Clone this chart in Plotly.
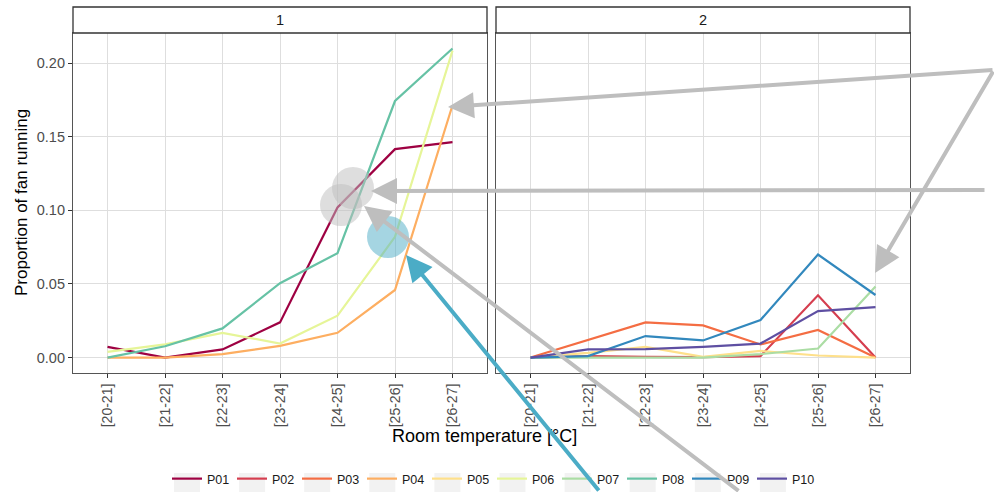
import plotly.graph_objects as go

# Room-temperature bins (x categories) shared by both panels
temp_bins = ["[20-21]", "[21-22]", "[22-23]", "[23-24]", "[24-25]", "[25-26]", "[26-27]"]

participants = ["P01", "P02", "P03", "P04", "P05", "P06", "P07", "P08", "P09", "P10"]
palette = ["#9E0142", "#D53E4F", "#F46D43", "#FDAE61", "#FEE08B",
           "#E6F598", "#ABDDA4", "#66C2A5", "#3288BD", "#5E4FA2"]

# Facet each participant belongs to
panel_of = {"P01": 1, "P04": 1, "P06": 1, "P08": 1,
            "P02": 2, "P03": 2, "P05": 2, "P07": 2, "P09": 2, "P10": 2}

# Proportion of time the fan was running, per temperature bin
fan_share = {
    "P01": [0.0072, 0.0000, 0.0055, 0.0239, 0.1020, 0.1416, 0.1464],
    "P04": [0.0000, 0.0000, 0.0023, 0.0079, 0.0168, 0.0459, 0.1714],
    "P06": [0.0038, 0.0089, 0.0168, 0.0095, 0.0284, 0.0820, 0.2085],
    "P08": [0.0000, 0.0077, 0.0198, 0.0505, 0.0709, 0.1743, 0.2100],
    "P02": [0.0000, 0.0010, 0.0005, 0.0003, 0.0010, 0.0423, 0.0000],
    "P03": [0.0000, 0.0120, 0.0239, 0.0218, 0.0089, 0.0187, 0.0000],
    "P05": [0.0000, 0.0032, 0.0073, 0.0005, 0.0045, 0.0014, 0.0000],
    "P07": [0.0000, 0.0000, 0.0000, 0.0000, 0.0023, 0.0061, 0.0482],
    "P09": [0.0000, 0.0010, 0.0146, 0.0116, 0.0255, 0.0700, 0.0425],
    "P10": [0.0000, 0.0055, 0.0057, 0.0073, 0.0095, 0.0316, 0.0343],
}

y_ticks = [0.00, 0.05, 0.10, 0.15, 0.20]

W, H = 994, 492
M_L, M_R, M_T, M_B = 73, 84, 33, 119
PW, PH = W - M_L - M_R, H - M_T - M_B
split_l, split_r = (487 - M_L) / PW, (496 - M_L) / PW
FONT = "Liberation Sans, Arial, sans-serif"


def px(x):
    return (x - M_L) / PW


def py(y):
    return (H - M_B - y) / PH


fig = go.Figure()
for name, col in zip(participants, palette):
    p = panel_of[name]
    fig.add_trace(go.Scatter(
        x=temp_bins, y=fan_share[name], mode="lines", name=name,
        line=dict(color=col, width=2.2),
        xaxis="x" if p == 1 else "x2", yaxis="y" if p == 1 else "y2",
        showlegend=True,
    ))

tick_font = dict(family=FONT, size=14, color="#4D4D4D")
axis_common = dict(
    showline=True, linecolor="#555555", linewidth=1.2, mirror=True,
    showgrid=True, gridcolor="#DEDEDE", gridwidth=1.2, zeroline=False,
    ticks="outside", ticklen=4, tickwidth=1.1, tickcolor="#333333",
    tickfont=tick_font, automargin=False,
)
xcommon = dict(axis_common, type="category", categoryorder="array",
               categoryarray=temp_bins, range=[-0.6, 6.6], tickangle=-90)
ycommon = dict(axis_common, range=[-0.0105, 0.2205], tickvals=y_ticks,
               tickformat=".2f")

fig.update_layout(
    template="none",
    width=W, height=H,
    margin=dict(l=M_L, r=M_R, t=M_T, b=M_B, autoexpand=False),
    paper_bgcolor="white", plot_bgcolor="white",
    xaxis=dict(xcommon, domain=[0, split_l], anchor="y"),
    xaxis2=dict(xcommon, domain=[split_r, 1], anchor="y2"),
    yaxis=dict(ycommon, domain=[0, 1], anchor="x", tickfont=dict(tick_font, size=14.5)),
    yaxis2=dict(ycommon, domain=[0, 1], anchor="x2", matches="y",
                showticklabels=False, ticks=""),
    legend=dict(orientation="h", x=px(492), xanchor="center",
                yref="container", y=1 - 479 / H, yanchor="middle",
                entrywidth=20, entrywidthmode="pixels",
                font=dict(family=FONT, size=12.5, color="#1A1A1A"),
                bgcolor="rgba(0,0,0,0)"),
    font=dict(family=FONT, color="#1A1A1A"),
)

shapes = []
annotations = []

# Light key backgrounds behind the legend swatches
for i in range(len(participants)):
    kx = 174 + 65.1 * i
    shapes.append(dict(type="rect", xref="paper", yref="paper",
                       x0=px(kx), x1=px(kx + 26), y0=py(497), y1=py(473),
                       fillcolor="#F2F2F2", line=dict(width=0), layer="below"))

# Facet strips
strip_top = py(7)
for (x0, x1), label in zip([(0, split_l), (split_r, 1)], ["1", "2"]):
    shapes.append(dict(type="rect", xref="paper", yref="paper", x0=x0, x1=x1,
                       y0=1, y1=strip_top, fillcolor="white",
                       line=dict(color="#333333", width=1.3), layer="above"))
    annotations.append(dict(xref="paper", yref="paper", x=(x0 + x1) / 2, y=(1 + strip_top) / 2,
                            text=label, showarrow=False, xanchor="center", yanchor="middle",
                            font=dict(size=14.5, color="#1A1A1A")))

# Axis titles
annotations.append(dict(xref="paper", yref="paper", x=px(484), y=py(436),
                        text="Room temperature [°C]", showarrow=False,
                        xanchor="center", yanchor="middle",
                        font=dict(size=18, color="black")))
annotations.append(dict(xref="paper", yref="paper", x=px(21), y=py(203),
                        text="Proportion of fan running", showarrow=False, textangle=-90,
                        xanchor="center", yanchor="middle",
                        font=dict(size=17, color="black")))

# Highlight circles
for cx, cy, r, fill in [(353, 188, 21, "rgba(190,190,190,0.5)"),
                        (341, 205, 21, "rgba(190,190,190,0.5)"),
                        (388, 237, 21, "rgba(75,172,198,0.5)")]:
    shapes.append(dict(type="circle", xref="paper", yref="paper",
                       x0=px(cx - r), x1=px(cx + r), y0=py(cy + r), y1=py(cy - r),
                       fillcolor=fill, line=dict(width=0), layer="above"))

# Call-out arrows: (tip x, tip y, tail x, tail y, colour)
for tx, ty, sx, sy, col in [(448, 107, 996, 70, "#BEBEBE"),
                            (371, 191, 986, 190, "#BEBEBE"),
                            (875, 273, 996, 70, "#BEBEBE"),
                            (364, 206, 740, 494, "#BEBEBE"),
                            (406, 255, 600, 494, "#4BACC6")]:
    annotations.append(dict(xref="paper", yref="paper", x=px(tx), y=py(ty),
                            ax=sx - tx, ay=sy - ty, axref="pixel", ayref="pixel",
                            text="", showarrow=True, arrowhead=2, arrowsize=1.3,
                            arrowwidth=4, arrowcolor=col, standoff=0))

fig.update_layout(shapes=shapes, annotations=annotations)
fig.write_html("out.html")
